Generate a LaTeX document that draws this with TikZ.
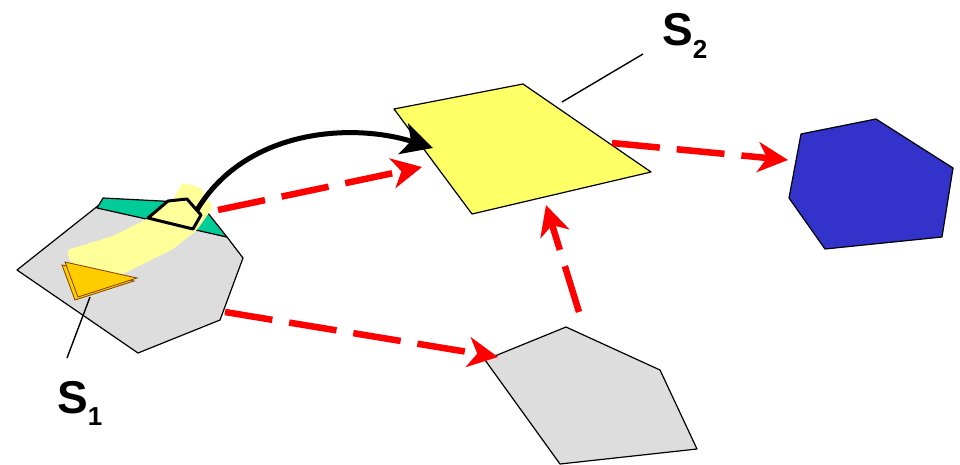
\documentclass[tikz,border=0pt]{standalone}
\usepackage{fontspec}
\setmainfont{Liberation Sans}
\usetikzlibrary{arrows.meta}
\definecolor{setGray}{HTML}{DDDDDD}
\definecolor{setGreen}{HTML}{00CC99}
\definecolor{setPale}{HTML}{FFFF99}
\definecolor{setYellow}{HTML}{FFFF66}
\definecolor{setOrange}{HTML}{FFCC00}
\definecolor{setBlue}{HTML}{3333CC}

\begin{document}
\begin{tikzpicture}[x=1pt, y=-1pt,
  region/.style={draw=black, line width=1.2pt, line join=round},
  mapflow/.style={red, line width=6.5pt, dash pattern=on 48pt off 17pt,
     -{Stealth[length=30pt, width=30pt, inset=9pt]}},
  lift/.style={black, line width=5pt,
     -{Stealth[length=31pt, width=32pt, inset=8pt]}},
  leader/.style={black, line width=1.4pt},
  setlabel/.style={anchor=base west, inner sep=0pt,
     font=\fontsize{46}{50}\selectfont\bfseries}]
  \useasboundingbox (0,0) rectangle (960,464);

  % the shapes
  \draw[region, fill=setGray] (17,270) -- (99,205) -- (227,237) -- (243,258)
     -- (220,320) -- (138,353) -- cycle;
  \draw[region, fill=setGreen] (97,208) -- (103,198) -- (200,203) -- (227,237) -- cycle;
  \fill[setPale, rounded corners=3pt] (67,250) -- (113,236) -- (147,219) -- (173,200)
     -- (182,183) -- (200,187) -- (213,207) -- (197,230) -- (173,249)
     -- (135,268) -- (110,280) -- (70,262) -- cycle;
  \draw[draw=orange!50!black, fill=setOrange, line width=0.8pt]
     (62,265) -- (134,281) -- (75,300) -- cycle;
  \draw[draw=orange!50!black, fill=setOrange, line width=0.8pt]
     (65,262) -- (137,278) -- (78,297) -- cycle;
  \draw[black, fill=setPale, line width=3pt, line join=round]
     (148,218) -- (168,201) -- (187,199) -- (201,215) -- (193,229) -- cycle;
  \draw[region, fill=setYellow] (394,109) -- (523,84) -- (651,172) -- (472,214) -- cycle;
  \draw[region, fill=setGray] (485,360) -- (566,327) -- (660,370) -- (697,449)
     -- (560,464) -- cycle;
  \draw[region, fill=setBlue] (801,134) -- (876,119) -- (953,168) -- (942,237)
     -- (825,249) -- (789,198) -- cycle;

  % end points of the connectors
  \coordinate (patch) at (197,210);
  \coordinate (patchR) at (218,210);
  \coordinate (hexR) at (225,312);
  \coordinate (imgL) at (433,148);
  \coordinate (imgLow) at (422,167);
  \coordinate (imgB) at (546,205);
  \coordinate (imgR) at (612,143);
  \coordinate (blueL) at (788,160);
  \coordinate (penL) at (498,357);
  \coordinate (penT) at (579,312);
  \coordinate (triB) at (90,297);
  \coordinate (imgE) at (562,102);

  \node[setlabel] (s1) at (57,413) {S\raisebox{-12pt}{\fontsize{26}{26}\selectfont\bfseries 1}};
  \node[setlabel] (s2) at (662,45) {S\raisebox{-13pt}{\fontsize{26}{26}\selectfont\bfseries 2}};
  \coordinate (s1top) at (67,358);
  \coordinate (s2foot) at (643,54);

  \draw[leader] (triB) -- (s1top);
  \draw[leader] (imgE) -- (s2foot);
  \draw[lift] (patch) .. controls (245,130) and (350,122) .. (imgL);
  \draw[mapflow] (patchR) -- (imgLow);
  \draw[mapflow] (imgR) -- (blueL);
  \draw[mapflow] (hexR) -- (penL);
  \draw[mapflow] (penT) -- (imgB);
\end{tikzpicture}
\end{document}
